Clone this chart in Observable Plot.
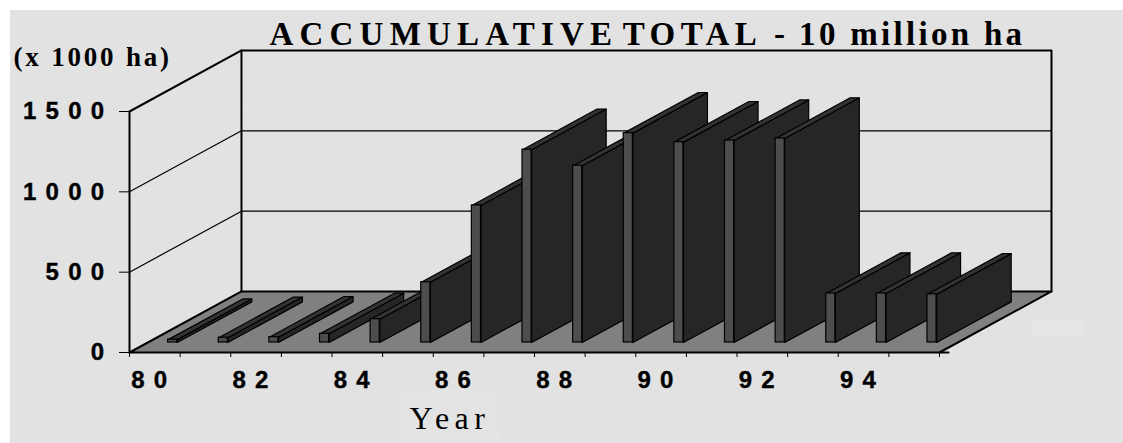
<!DOCTYPE html>
<html>
<head>
<meta charset="utf-8">
<script src="https://cdn.jsdelivr.net/npm/d3@7"></script>
<script src="https://cdn.jsdelivr.net/npm/@observablehq/plot@0.6"></script>
<style>
  html, body { margin: 0; padding: 0; background: #fff; overflow: hidden; }
  #stage { position: relative; width: 1123px; height: 443px; }
  #panel { position: absolute; left: 10px; top: 10px; right: 0; bottom: 0; background: #e2e2e2; }
  #yearBox { position: absolute; left: 402px; top: 390px; width: 97px; height: 50px; background: #e3e3e3; box-sizing: border-box; border: 1px solid #e6e6e6; }
  #keyBox { position: absolute; left: 1033px; top: 321px; width: 51px; height: 16px; background: #e6e6e6; }
  #chart { position: absolute; left: 0; top: 0; }
  #chart svg { background: transparent; display: block; }
  .num text { letter-spacing: 9.3px; stroke: #000; stroke-width: 0.4px; }
  .unit text { letter-spacing: 2.8px; }
  .year text { letter-spacing: 5.5px; }
</style>
</head>
<body>
<div id="stage">
  <div id="panel"></div>
  <div id="yearBox"></div>
  <div id="keyBox"></div>
  <div id="chart"></div>
</div>
<script>
// Cumulative area per year, thousand hectares
const years = [80, 81, 82, 83, 84, 85, 86, 87, 88, 89, 90, 91, 92, 93, 94, 95];
const area = [18, 30, 33, 54, 145, 375, 853, 1200, 1100, 1303, 1247, 1257, 1270, 305, 305, 300];
const valueTicks = [0, 500, 1000, 1500];
const gridValues = [500, 1000];
const labelledYears = [80, 82, 84, 86, 88, 90, 92, 94];

const titleText = "ACCUMULATIVE TOTAL - 10 million ha";
const unitText = "(x 1000 ha)";
const xTitle = "Year";

// The title is set in runs with their own tracking
const titleRuns = [
  {text: "ACCUMULATIVE ", spacing: 6.2, shift: 0},
  {text: "TOTAL - ", spacing: 5.4, shift: -10},
  {text: "10 million ha", spacing: 3.3, shift: -5}
];

// Oblique depth of the box, expressed in data units per full depth
const depthX = 2.212;
const depthY = 379.7;
const barCentre = 0.49;
const barHalf = 0.09;
const barFront = 0.164;
const barBack = 0.83;
const n = years.length;

// Point at category position c, value v and depth d
const pt = (c, v, d) => ({x: c + d * depthX, y: v + d * depthY});

function topFace(i) {
  const c0 = i + barCentre - barHalf, c1 = i + barCentre + barHalf, v = area[i];
  return [pt(c0, v, barFront), pt(c1, v, barFront), pt(c1, v, barBack), pt(c0, v, barBack), pt(c0, v, barFront)];
}

function sideFace(i) {
  const c = i + barCentre + barHalf, v = area[i];
  return [pt(c, 0, barFront), pt(c, v, barFront), pt(c, v, barBack), pt(c, 0, barBack), pt(c, 0, barFront)];
}

const floor = [pt(0, 0, 0), pt(n, 0, 0), pt(n, 0, 1), pt(0, 0, 1), pt(0, 0, 0)];
const leftWall = [pt(0, 0, 0), pt(0, 1500, 0), pt(0, 1500, 1), pt(0, 0, 1)];
const topEdge = [pt(0, 1500, 1), pt(n, 1500, 1), pt(n, 0, 1)];
const frontStub = [pt(n, 0, 0), pt(n + 0.18, 0, 0)];

const line = (points, options) => Plot.line(points, {x: "x", y: "y", stroke: "#000", ...options});
const sans = "Liberation Sans, Arial, sans-serif";
const serif = "Liberation Serif, Times New Roman, serif";

const chart = Plot.plot({
  width: 1123,
  height: 443,
  marginLeft: 129,
  marginRight: 184,
  marginTop: 111,
  marginBottom: 91,
  style: {background: "transparent"},
  x: {domain: [0, n], axis: null},
  y: {domain: [0, 1500], axis: null},
  marks: [
    // Back wall: guide lines for the intermediate values
    ...gridValues.map((v) => line([pt(0, v, 0), pt(0, v, 1), pt(n, v, 1)], {strokeWidth: 1.2})),
    // Floor and box edges
    line(floor, {fill: "#808080", strokeWidth: 2}),
    line(leftWall, {strokeWidth: 2}),
    line(topEdge, {strokeWidth: 2}),
    line(frontStub, {strokeWidth: 2}),
    // Depth faces of every bar, left to right so nearer ones overlap
    ...years.flatMap((y, i) => [
      line(sideFace(i), {fill: "#262626", strokeWidth: 1.2}),
      line(topFace(i), {fill: "#333333", strokeWidth: 1.2})
    ]),
    // Front faces of the bars
    Plot.rect(years, {
      x1: (d, i) => i + barCentre - barHalf + barFront * depthX,
      x2: (d, i) => i + barCentre + barHalf + barFront * depthX,
      y1: barFront * depthY,
      y2: (d, i) => area[i] + barFront * depthY,
      fill: "#4d4d4d",
      stroke: "#000",
      strokeWidth: 1.2
    }),
    // Axes
    Plot.axisY(valueTicks, {
      anchor: "left", label: null, tickSize: 10, tickPadding: 6,
      tickFormat: d3.format("d"),
      fontSize: 24, fontWeight: "bold", fontFamily: sans, fill: "#000",
      className: "num"
    }),
    Plot.axisX(d3.range(n + 1), {anchor: "bottom", label: null, tickSize: 5, fill: "none"}),
    Plot.axisX(labelledYears.map((y) => years.indexOf(y) + 0.5), {
      anchor: "bottom", label: null, tickSize: 0, tickPadding: 18, dx: -1,
      tickFormat: (c) => years[c - 0.5],
      fontSize: 24, fontWeight: "bold", fontFamily: sans, fill: "#000",
      className: "num"
    }),
    // Titles, placed relative to the plot frame
    Plot.text([titleText], {
      text: (d) => d, frameAnchor: "top-left", dx: 140, dy: -77, textAnchor: "start", lineAnchor: "middle",
      fontSize: 33, fontWeight: "bold", fontFamily: serif, fill: "#000", className: "title"
    }),
    Plot.text([unitText], {
      text: (d) => d, frameAnchor: "top-left", dx: -116, dy: -54, textAnchor: "start", lineAnchor: "middle",
      fontSize: 27, fontWeight: "bold", fontFamily: serif, fill: "#000", className: "unit"
    }),
    Plot.text([xTitle], {
      text: (d) => d, frameAnchor: "bottom-left", dx: 280, dy: 66, textAnchor: "start", lineAnchor: "middle",
      fontSize: 32, fontFamily: serif, fill: "#000", className: "year"
    })
  ]
});

// Split the title into its tracked runs
const titleNode = d3.select(chart).select(".title text");
titleNode.text(null);
titleRuns.forEach((r) => {
  titleNode.append("tspan")
    .attr("dx", r.shift)
    .style("letter-spacing", r.spacing + "px")
    .text(r.text);
});

document.getElementById("chart").appendChild(chart);
</script>
</body>
</html>
